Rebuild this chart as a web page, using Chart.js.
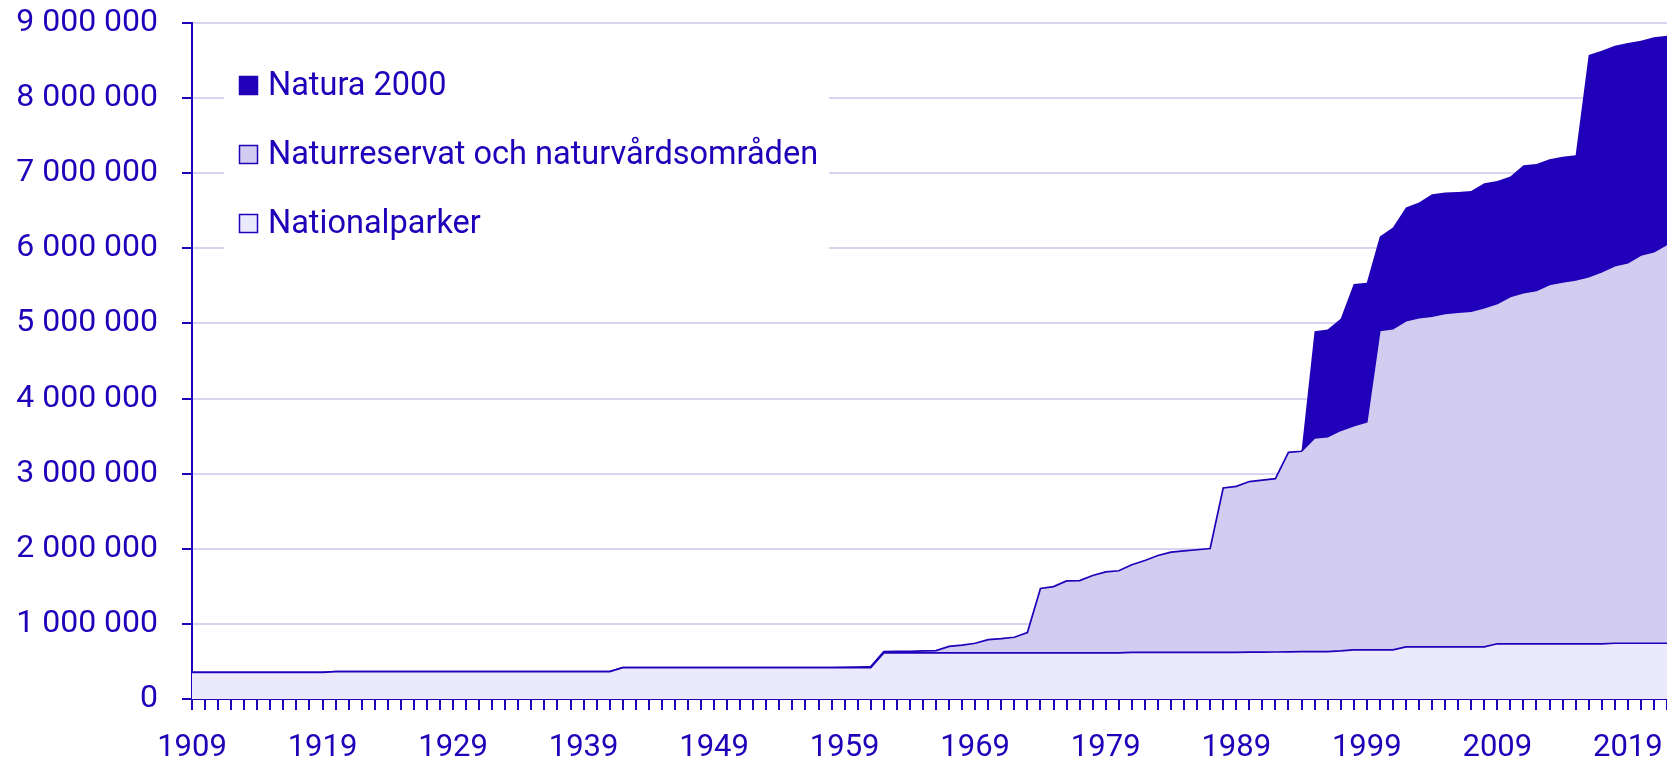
<!DOCTYPE html>
<html lang="sv">
<head>
<meta charset="utf-8">
<title>Skyddad natur</title>
<script src="https://cdn.jsdelivr.net/npm/chart.js@4.4.1/dist/chart.umd.min.js"></script>
<style>
  html, body { margin: 0; padding: 0; background: #fff; }
  #wrap { width: 1667px; height: 760px; position: relative; }
</style>
</head>
<body>
<div id="wrap"><canvas id="chart"></canvas></div>
<script>
// years 1909-2022
const years = [
  1909, 1910, 1911, 1912, 1913, 1914, 1915, 1916, 1917, 1918,
  1919, 1920, 1921, 1922, 1923, 1924, 1925, 1926, 1927, 1928,
  1929, 1930, 1931, 1932, 1933, 1934, 1935, 1936, 1937, 1938,
  1939, 1940, 1941, 1942, 1943, 1944, 1945, 1946, 1947, 1948,
  1949, 1950, 1951, 1952, 1953, 1954, 1955, 1956, 1957, 1958,
  1959, 1960, 1961, 1962, 1963, 1964, 1965, 1966, 1967, 1968,
  1969, 1970, 1971, 1972, 1973, 1974, 1975, 1976, 1977, 1978,
  1979, 1980, 1981, 1982, 1983, 1984, 1985, 1986, 1987, 1988,
  1989, 1990, 1991, 1992, 1993, 1994, 1995, 1996, 1997, 1998,
  1999, 2000, 2001, 2002, 2003, 2004, 2005, 2006, 2007, 2008,
  2009, 2010, 2011, 2012, 2013, 2014, 2015, 2016, 2017, 2018,
  2019, 2020, 2021, 2022
]

// hectares
const nationalparker = [
  355000, 355000, 355000, 355000, 355000, 355000, 355000, 355000, 355000, 355000,
  355000, 364000, 364000, 364000, 364000, 364000, 364000, 364000, 364000, 364000,
  364000, 364000, 364000, 364000, 364000, 364000, 364000, 364000, 364000, 364000,
  364000, 364000, 364000, 418000, 418000, 418000, 418000, 418000, 418000, 418000,
  418000, 418000, 418000, 418000, 418000, 418000, 418000, 418000, 418000, 418000,
  418000, 418000, 418000, 613000, 613000, 613000, 613000, 613000, 613000, 613000,
  613000, 613000, 613000, 613000, 613000, 613000, 613000, 613000, 613000, 613000,
  613000, 613000, 620000, 620000, 620000, 620000, 620000, 620000, 620000, 620000,
  620000, 625000, 625000, 626000, 628000, 630000, 631000, 631000, 640000, 653000,
  653000, 653000, 653000, 693000, 693000, 693000, 693000, 693000, 693000, 693000,
  735000, 735000, 735000, 735000, 735000, 735000, 735000, 735000, 735000, 742000,
  742000, 742000, 742000, 742000
]

const naturreservat = [
  0, 0, 0, 0, 0, 0, 0, 0, 0, 0,
  0, 0, 0, 0, 0, 0, 0, 0, 0, 0,
  0, 0, 0, 0, 0, 0, 0, 0, 0, 0,
  0, 0, 0, 0, 0, 0, 0, 0, 0, 0,
  0, 0, 0, 0, 0, 0, 0, 0, 0, 0,
  3000, 8000, 13000, 18000, 20000, 22000, 27000, 32000, 87000, 105000,
  129000, 178000, 191000, 209000, 271000, 858000, 884000, 960000, 964000, 1031000,
  1080000, 1094000, 1167000, 1224000, 1291000, 1336000, 1353000, 1367000, 1384000, 2189000,
  2211000, 2270000, 2290000, 2307000, 2656000, 2668000, 2845000, 2862000, 2937000, 2987000,
  3036000, 4254000, 4276000, 4343000, 4383000, 4405000, 4440000, 4458000, 4471000, 4516000,
  4532000, 4625000, 4675000, 4705000, 4785000, 4818000, 4845000, 4887000, 4954000, 5027000,
  5067000, 5169000, 5214000, 5311000
]

const natura2000 = [
  0, 0, 0, 0, 0, 0, 0, 0, 0, 0,
  0, 0, 0, 0, 0, 0, 0, 0, 0, 0,
  0, 0, 0, 0, 0, 0, 0, 0, 0, 0,
  0, 0, 0, 0, 0, 0, 0, 0, 0, 0,
  0, 0, 0, 0, 0, 0, 0, 0, 0, 0,
  0, 0, 0, 0, 0, 0, 0, 0, 0, 0,
  0, 0, 0, 0, 0, 0, 0, 0, 0, 0,
  0, 0, 0, 0, 0, 0, 0, 0, 0, 0,
  0, 0, 0, 0, 0, 0, 1421000, 1427000, 1485000, 1886000,
  1853000, 1249000, 1347000, 1506000, 1533000, 1622000, 1609000, 1600000, 1600000, 1658000,
  1631000, 1596000, 1697000, 1684000, 1667000, 1665000, 1660000, 2951000, 2942000, 2929000,
  2924000, 2853000, 2853000, 2778000
]

const yTicks = [0, 1000000, 2000000, 3000000, 4000000, 5000000, 6000000, 7000000, 8000000, 9000000]

const ink = '#2000b8'
const gridColor = '#d7d5f2'

function spaced(v) {
  return String(v).replace(/\B(?=(\d{3})+(?!\d))/g, ' ')
}

// white box with the legend inside the plot, top left
const legendBox = {
  id: 'legendBox',
  beforeDatasetsDraw(chart) {
    const ctx = chart.ctx
    ctx.save()
    ctx.fillStyle = '#fff'
    ctx.fillRect(224, 38, 605, 228)
    ctx.restore()
  },
  afterDatasetsDraw(chart) {
    const ctx = chart.ctx
    const items = chart.data.datasets.slice().reverse()
    ctx.save()
    ctx.font = '32.5px Roboto'
    ctx.textBaseline = 'middle'
    items.forEach((ds, i) => {
      const cy = 86 + i * 69
      ctx.fillStyle = ds.backgroundColor
      ctx.fillRect(239.5, cy - 9.5, 18, 18)
      ctx.strokeStyle = ink
      ctx.lineWidth = 1.5
      ctx.strokeRect(239.5, cy - 9.5, 18, 18)
      ctx.fillStyle = ink
      ctx.fillText(ds.label, 268, cy + 1)
    })
    ctx.restore()
  }
}

const ctx = document.getElementById('chart')

new Chart(ctx, {
  type: 'line',
  data: {
    labels: years,
    datasets: [
      {
        label: 'Nationalparker',
        data: nationalparker,
        backgroundColor: '#ebeafc',
        borderColor: ink,
        borderWidth: 1.7,
        fill: 'origin'
      },
      {
        label: 'Naturreservat och naturvårdsområden',
        data: naturreservat,
        backgroundColor: '#d2ccf0',
        borderColor: ink,
        borderWidth: 1.7,
        fill: '-1'
      },
      {
        label: 'Natura 2000',
        data: natura2000,
        backgroundColor: ink,
        borderColor: ink,
        borderWidth: 0,
        fill: '-1'
      }
    ]
  },
  options: {
    responsive: true,
    maintainAspectRatio: false,
    animation: false,
    layout: { padding: { top: 23, right: 0, left: 0, bottom: 0 } },
    elements: {
      point: { radius: 0 },
      line: { tension: 0 }
    },
    plugins: {
      legend: { display: false },
      tooltip: { enabled: false }
    },
    scales: {
      x: {
        offset: false,
        border: { color: ink, width: 2 },
        grid: {
          drawOnChartArea: false,
          drawTicks: true,
          tickLength: 11,
          color: ink,
          lineWidth: 2
        },
        ticks: {
          autoSkip: false,
          maxRotation: 0,
          padding: 20,
          color: ink,
          font: { family: 'Roboto', size: 31 },
          callback: (val, i) => (i % 10 === 0 ? years[i] : '')
        },
        afterFit: scale => {
          scale.height = 61
          scale.paddingLeft = 0
          scale.paddingRight = 0
        }
      },
      y: {
        stacked: true,
        min: 0,
        max: 9000000,
        border: { color: ink, width: 2 },
        grid: {
          color: gridColor,
          lineWidth: 2,
          tickColor: ink,
          tickLength: 10
        },
        afterBuildTicks: scale => {
          scale.ticks = yTicks.map(v => ({ value: v }))
        },
        ticks: {
          padding: 24,
          color: ink,
          font: { family: 'Roboto', size: 32 },
          callback: v => spaced(v)
        },
        afterFit: scale => {
          scale.width = 192
          scale.paddingTop = 0
          scale.paddingBottom = 0
        }
      }
    }
  },
  plugins: [legendBox]
})
</script>
</body>
</html>
